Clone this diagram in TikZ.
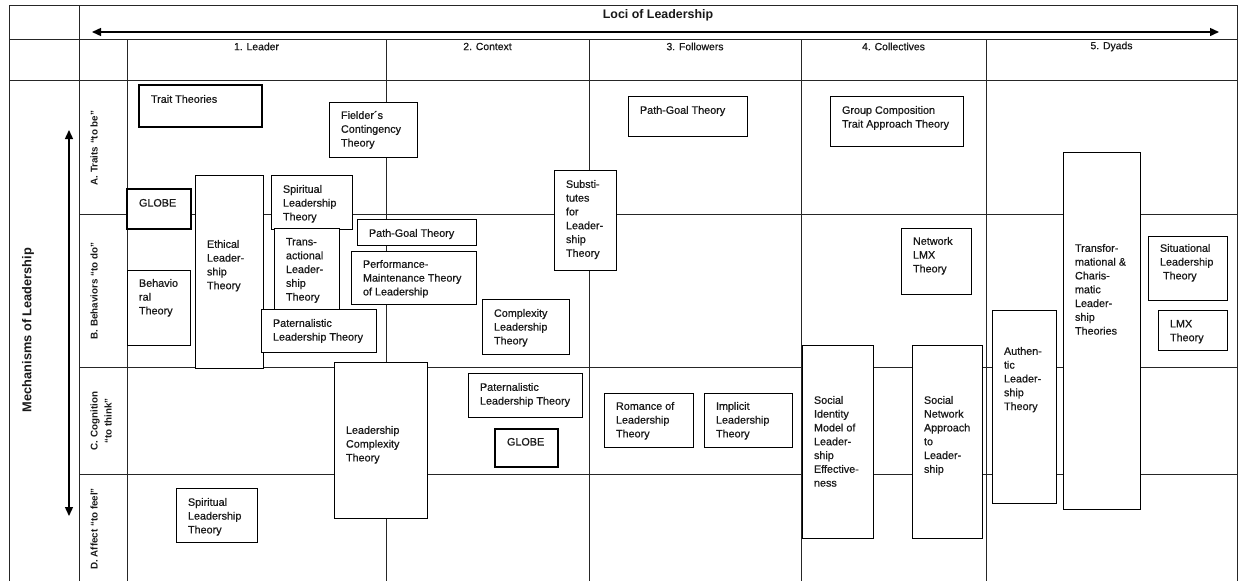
\documentclass[tikz,border=0pt]{standalone}
\usepackage{fontspec}
\setmainfont{Liberation Sans}[UprightFeatures={FakeBold=0.6}]
\usetikzlibrary{fit,arrows.meta}
\tikzset{
  grid/.style={draw=black!85, line width=0.8pt},
  box/.style={draw=black, line width=0.8pt, fill=white, inner sep=0pt, outer sep=0pt},
  thick box/.style={line width=1.8pt},
  txt/.style={anchor=north west, inner sep=0pt, outer sep=0pt, align=left, text=black!90,
    font=\fontsize{10.8}{13.8}\selectfont},
  head/.style={inner sep=0pt, text=black!90, font=\fontsize{10.4}{12}\selectfont},
  rowlab/.style={inner sep=0pt, rotate=90, align=center, text=black!90,
    font=\bfseries\fontsize{9.8}{14}\selectfont},
  dblarrow/.style={line width=1.4pt, {Triangle[length=9pt,width=8pt]}-{Triangle[length=9pt,width=8pt]}},
}
% box: [style]{name}{x1}{y1}{x2}{y2}{first line centre y}{text}
\newcommand\tb[8][]{%
  \node[box,#1,fit={(#3,#4)(#5,#6)}] (#2) {};
  \node[txt] (#2-t) at ({#3+12},{#7-4}) {#8};}
\begin{document}
\begin{tikzpicture}[x=1pt,y=-1pt]
\useasboundingbox (0,0) rectangle (1243,581);
\fill[white] (0,0) rectangle (1243,581);
% ---------- grid ----------
\coordinate (tl) at (9,5);
\coordinate (tr) at (1237,5);
\coordinate (bl) at (9,581);
\coordinate (br) at (1237,581);
\draw[grid] (tl) -- (tr);
\draw[grid] (9,39) -- (1237,39);
\draw[grid] (9,80) -- (1237,80);
\draw[grid] (tl) -- (bl);
\draw[grid] (tr) -- (br);
\draw[grid] (79,5) -- (79,581);
\draw[grid] (127,39) -- (127,581);
\foreach \x in {386,589,801,986} \draw[grid] (\x,39) -- (\x,581);
\foreach \y in {214,367,474} \draw[grid] (79,\y) -- (1237,\y);
% ---------- headers ----------
\node[inner sep=0pt, text=black!90, font=\bfseries\fontsize{12.4}{14}\selectfont] (loci) at (658,15) {Loci of Leadership};
\coordinate (locL) at (92,32);
\coordinate (locR) at (1219,32);
\draw[dblarrow] (locL) -- (locR);
\node[head] (c1) at (256.5,46.5) {1. Leader};
\node[head] (c2) at (487.5,46.5) {2. Context};
\node[head] (c3) at (695,46.5) {3. Followers};
\node[head] (c4) at (893.5,46.5) {4. Collectives};
\node[head] (c5) at (1111.5,46.5) {5. Dyads};
\node[inner sep=0pt, rotate=90, text=black!90, font=\bfseries\fontsize{12.8}{14}\selectfont] (mech) at (28,330) {Mechanisms of Leadership};
\coordinate (mechT) at (69,130);
\coordinate (mechB) at (69,516);
\draw[dblarrow] (mechT) -- (mechB);
\node[rowlab] (rA) at (94,148) {A. Traits “to be”};
\node[rowlab] (rB) at (94,291) {B. Behaviors “to do”};
\node[rowlab] (rC) at (101,421) {C. Cognition\\“to think”};
\node[rowlab] (rD) at (94,529) {D. Affect “to feel”};
% ---------- boxes: Leader ----------
\tb[thick box]{trait}{139}{85}{262}{127}{99}{Trait Theories}
\tb{fielder}{329}{102}{417}{157}{115}{Fielder´s\\Contingency\\Theory}
\tb[thick box]{globeA}{127}{189}{191}{229}{203}{GLOBE}
\tb{ethical}{195}{175}{263}{368}{244}{Ethical\\Leader-\\ship\\Theory}
\tb{spiritA}{271}{175}{352}{229}{189}{Spiritual\\Leadership\\Theory}
\tb{trans}{274}{228}{339}{309}{242}{Trans-\\actional\\Leader-\\ship\\Theory}
\tb{paterA}{261}{309}{376}{352}{323}{Paternalistic\\Leadership Theory}
\tb{behav}{127}{270}{190}{345}{283}{Behavio\\ral\\Theory}
\tb{pathB}{357}{219}{476}{245}{233}{Path-Goal Theory}
\tb{perf}{351}{251}{476}{304}{264}{Performance-\\Maintenance Theory\\of Leadership}
\tb{complex}{482}{299}{569}{354}{313}{Complexity\\Leadership\\Theory}
\tb{subst}{554}{170}{616}{270}{184}{Substi-\\tutes\\for\\Leader-\\ship\\Theory}
\tb{lcomplex}{334}{362}{427}{518}{430}{Leadership\\Complexity\\Theory}
\tb{paterC}{468}{373}{582}{417}{387}{Paternalistic\\Leadership Theory}
\tb[thick box]{globeC}{495}{429}{558}{467}{442}{GLOBE}
\tb{spiritD}{176}{488}{257}{542}{502}{Spiritual\\Leadership\\Theory}
% ---------- Followers ----------
\tb{pathF}{628}{96}{747}{136}{110}{Path-Goal Theory}
\tb{romance}{604}{393}{693}{447}{406}{Romance of\\Leadership\\Theory}
\tb{implicit}{704}{393}{792}{447}{406}{Implicit\\Leadership\\Theory}
% ---------- Collectives ----------
\tb{group}{830}{96}{963}{146}{110}{Group Composition\\Trait Approach Theory}
\tb{netlmx}{901}{228}{971}{294}{241}{Network\\LMX\\Theory}
\tb{socid}{802}{345}{873}{538}{400}{Social\\Identity\\Model of\\Leader-\\ship\\Effective-\\ness}
\tb{socnet}{912}{345}{982}{538}{400}{Social\\Network\\Approach\\to\\Leader-\\ship}
% ---------- Dyads ----------
\tb{authentic}{992}{310}{1056}{503}{351}{Authen-\\tic\\Leader-\\ship\\Theory}
\tb{transform}{1063}{152}{1140}{509}{248}{Transfor-\\mational \&\\Charis-\\matic\\Leader-\\ship\\Theories}
\tb{situational}{1148}{236}{1227}{300}{248}{Situational\\Leadership\\\ Theory}
\tb{lmx}{1158}{310}{1227}{350}{324}{LMX\\Theory}
\end{tikzpicture}
\end{document}
